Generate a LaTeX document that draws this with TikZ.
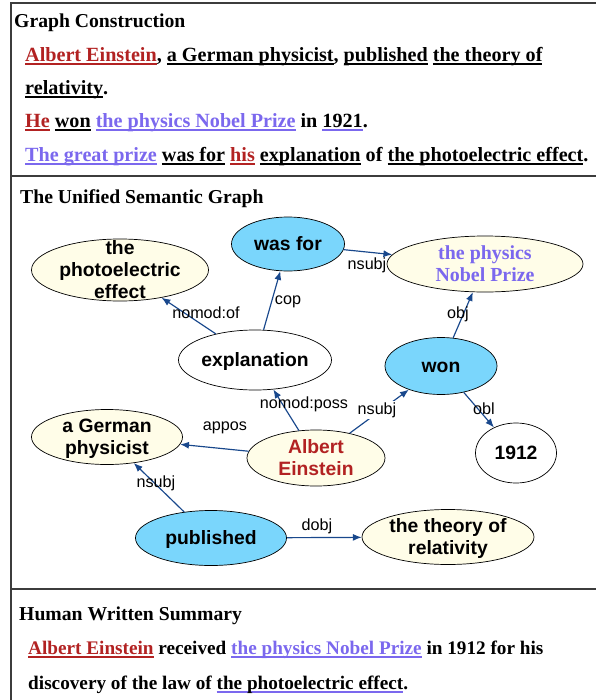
\documentclass[tikz,border=0pt]{standalone}
\usepackage{fontspec}
\setmainfont{Liberation Serif}
\setsansfont{Liberation Sans}
\usepackage{xcolor}
\usetikzlibrary{shapes.geometric,arrows.meta}

\definecolor{ered}{RGB}{178,34,34}
\definecolor{ppurple}{RGB}{123,104,238}
\definecolor{skyfill}{RGB}{122,214,252}
\definecolor{creamfill}{RGB}{255,253,232}
\definecolor{edgeblue}{RGB}{25,72,140}
\definecolor{framegray}{RGB}{60,60,60}

% coloured underlines
\newsavebox\ulbox
\newcommand\ulc[2]{\sbox\ulbox{#2}\rlap{\textcolor{#1}{\rule[-3pt]{\wd\ulbox}{1.1pt}}}\usebox\ulbox}
\newcommand\ulk[1]{\ulc{black}{#1}}
\newcommand\ulr[1]{\textcolor{ered}{\ulc{ered}{#1}}}
\newcommand\ulp[1]{\textcolor{ppurple}{\ulc{ppurple}{#1}}}
% node text that does not grow the ellipse
\newcommand\ntxt[1]{\makebox[0pt]{\smash{\raisebox{-6pt}{\begin{tabular}{@{}c@{}}#1\end{tabular}}}}}

\begin{document}
\begin{tikzpicture}[x=0.03cm, y=-0.03cm,
    txt/.style={inner sep=0pt, anchor=base west, font=\fontsize{16.8}{20}\selectfont\bfseries},
    sent/.style={txt, font=\fontsize{17.2}{20}\selectfont\bfseries},
    summ/.style={txt, font=\fontsize{16.4}{20}\selectfont\bfseries},
    ent/.style={ellipse, draw, line width=0.6pt, inner sep=0pt, fill=creamfill,
      font=\fontsize{16.5}{19}\selectfont\sffamily\bfseries},
    pred/.style={ent, fill=skyfill},
    leaf/.style={ent, fill=white},
    rel/.style={draw=edgeblue, line width=1pt, -{Latex[length=7.5pt,width=6pt]}},
    lbl/.style={inner sep=1pt, font=\fontsize{13.8}{16}\selectfont\sffamily}]
    \useasboundingbox (0,0) rectangle (596,700);

    % Draw the frame and the separators
    \draw[framegray, line width=1.3pt] (11,710) -- (11,3) -- (610,3);
    \draw[framegray, line width=1.6pt] (11,176) -- (610,176);
    \draw[framegray, line width=1.6pt] (11,589) -- (610,589);

    % Graph construction
    \node[txt] (gc) at (14,27) {Graph Construction};
    \node[sent] (s1) at (25,61) {\ulr{Albert Einstein}, \ulk{a German physicist}, \ulk{published} \ulk{the theory of}};
    \node[sent] (s2) at (25,94) {\ulk{relativity}.};
    \node[sent] (s3) at (25,127) {\ulr{He} \ulk{won} \ulp{the physics Nobel Prize} in \ulc{ppurple}{1921}.};
    \node[sent] (s4) at (25,161) {\ulp{The great prize} \ulk{was for} \ulr{his} \ulk{explanation} of \ulk{the photoelectric effect}.};

    % The unified semantic graph
    \node[txt] (usg) at (20,203) {The Unified Semantic Graph};
    \node[ent, minimum width=5.31cm, minimum height=1.86cm] (pe) at (120,270) {\ntxt{the\\photoelectric\\effect}};
    \node[pred, minimum width=3.39cm, minimum height=1.62cm] (wf) at (288,244) {\ntxt{was for}};
    \node[ent, minimum width=5.88cm, minimum height=1.68cm, text=ppurple,
      font=\fontsize{17}{19}\selectfont\rmfamily\bfseries] (np) at (485,264) {\ntxt{the physics\\Nobel Prize}};
    \node[leaf, minimum width=4.59cm, minimum height=1.8cm] (ex) at (255,360) {\ntxt{explanation}};
    \node[pred, minimum width=3.36cm, minimum height=1.71cm] (wo) at (441,366) {\ntxt{won}};
    \node[ent, minimum width=4.53cm, minimum height=1.65cm] (gp) at (107,437) {\ntxt{a German\\physicist}};
    \node[ent, minimum width=4.14cm, minimum height=1.68cm, text=ered] (ae) at (316,458) {\ntxt{Albert\\Einstein}};
    \node[leaf, minimum width=2.43cm, minimum height=1.8cm] (yr) at (516,453) {\ntxt{1912}};
    \node[pred, minimum width=4.53cm, minimum height=1.65cm] (pu) at (211,538) {\ntxt{published}};
    \node[ent, minimum width=5.16cm, minimum height=1.65cm] (tr) at (448,537) {\ntxt{the theory of\\relativity}};

    % Relations
    \draw[rel] (ex) -- (pe);
    \draw[rel] (ex) -- (wf);
    \draw[rel] (wf) -- (np);
    \draw[rel] (wo) -- (np);
    \draw[rel] (ae) -- (ex);
    \draw[rel] (ae) -- (wo);
    \draw[rel] (wo) -- (yr);
    \draw[rel] (ae) -- (gp);
    \draw[rel] (pu) -- (gp);
    \draw[rel] (pu) -- (tr);

    % Relation labels
    \node[lbl] (lof) at (206,313) {nomod:of};
    \node[lbl] (lcop) at (288,302) {cop};
    \node[lbl] (lns1) at (367,265) {nsubj};
    \node[lbl] (lobj) at (458,314) {obj};
    \node[lbl] (lposs) at (304,404) {nomod:poss};
    \node[lbl, fill=white] (lns2) at (377,410) {nsubj};
    \node[lbl] (lobl) at (484,409) {obl};
    \node[lbl] (lapp) at (225,428) {appos};
    \node[lbl] (lns3) at (156,483) {nsubj};
    \node[lbl] (ldobj) at (317,526) {dobj};

    % Human written summary
    \node[txt] (hws) at (19,620) {Human Written Summary};
    \node[summ] (h1) at (28,654) {\ulr{Albert Einstein} received \ulp{the physics Nobel Prize} in 1912 for his};
    \node[summ] (h2) at (28,689) {discovery of the law of \ulc{ppurple}{the photoelectric effect}.};
\end{tikzpicture}
\end{document}
